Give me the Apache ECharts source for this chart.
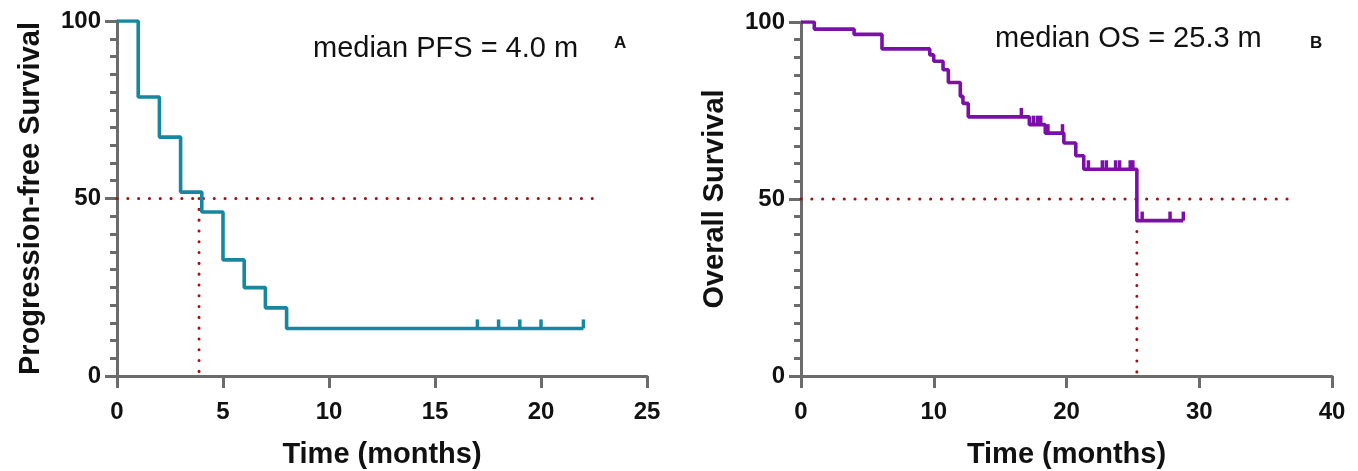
<!DOCTYPE html>
<html>
<head>
<meta charset="utf-8">
<script src="https://cdn.jsdelivr.net/npm/echarts@6/dist/echarts.min.js"></script>
<style>html,body{margin:0;padding:0;background:#fff}#c{width:1358px;height:471px}</style>
</head>
<body>
<div id="c"></div>
<script>
// Panel A: progression-free survival
const pfsTime = [0, 1, 2, 3, 4, 5, 6, 7, 8, 22];
const pfsSurv = [100, 78.6, 67.3, 51.8, 46.2, 32.7, 24.9, 19.2, 13.4, 13.4];
const pfsCensorTime = [17, 18, 19, 20, 22];
const pfsCensorSurv = [13.4, 13.4, 13.4, 13.4, 13.4];
const pfsMedianTime = 3.87;
const pfsRefEnd = 22.8;

// Panel B: overall survival
const osTime = [0, 1, 4, 6.1, 9.7, 10.0, 10.7, 11.1, 12.0, 12.2, 12.6, 17.2, 18.4, 19.8, 20.7, 21.3, 25.3, 28.8];
const osSurv = [100, 98.0, 96.5, 92.4, 90.7, 88.9, 86.5, 82.9, 79.0, 77.0, 73.2, 71.0, 68.6, 65.8, 62.2, 58.4, 43.9, 43.9];
const osCensorTime = [16.6, 17.5, 17.8, 18.06, 18.6, 19.7, 21.65, 22.7, 23.0, 23.7, 24.0, 24.8, 25.0, 25.7, 27.8, 28.8];
const osCensorSurv = [73.2, 71.0, 71.0, 71.0, 68.6, 68.6, 58.4, 58.4, 58.4, 58.4, 58.4, 58.4, 58.4, 43.9, 43.9, 43.9];
const osMedianTime = 25.3;
const osRefEnd = 37.2;

const medianLevel = 50;
const yTicks = [0, 50, 100];
const pfsXTicks = [0, 5, 10, 15, 20, 25];
const osXTicks = [0, 10, 20, 30, 40];

const axisColor = '#6b6b6b';
const pfsColor = '#16879f';
const osColor = '#7b10a8';
const refColor = '#a3100f';
const FONT = '"Liberation Sans", Arial, sans-serif';

const zip = (a, b) => a.map((v, i) => [v, b[i]]);

function yAxis(gridIndex, name) {
  return {
    type: 'value', gridIndex, min: yTicks[0], max: yTicks[yTicks.length - 1], interval: 50,
    name, nameLocation: 'middle', nameGap: 72, nameRotate: 90,
    nameTextStyle: { fontFamily: FONT, fontWeight: 'bold', fontSize: 29, color: '#111' },
    axisLine: { show: true, lineStyle: { color: axisColor, width: 3 } },
    axisTick: { show: true, length: 12, lineStyle: { color: axisColor, width: 3 } },
    minorTick: { show: true, splitNumber: 10, length: 7, lineStyle: { color: axisColor, width: 3 } },
    splitLine: { show: false },
    axisLabel: { fontFamily: FONT, fontWeight: 'bold', fontSize: 24, color: '#111', margin: 16 }
  };
}
function xAxis(gridIndex, ticks, name) {
  return {
    type: 'value', gridIndex, min: ticks[0], max: ticks[ticks.length - 1], interval: ticks[1] - ticks[0],
    name, nameLocation: 'middle', nameGap: 64,
    nameTextStyle: { fontFamily: FONT, fontWeight: 'bold', fontSize: 29, color: '#111' },
    axisLine: { show: true, onZero: false, lineStyle: { color: axisColor, width: 3 } },
    axisTick: { show: true, length: 12, lineStyle: { color: axisColor, width: 3 } },
    splitLine: { show: false },
    axisLabel: { fontFamily: FONT, fontWeight: 'bold', fontSize: 24, color: '#111', margin: 24 }
  };
}
function dotted(xi, data) {
  return {
    type: 'line', xAxisIndex: xi, yAxisIndex: xi, data, symbol: 'none', silent: true,
    lineStyle: { color: refColor, width: 3, type: [0.1, 10.7], cap: 'round' }, z: 1
  };
}
function km(xi, data, color) {
  return {
    type: 'line', xAxisIndex: xi, yAxisIndex: xi, data, step: 'end', symbol: 'none',
    lineStyle: { color, width: 3.6 }, z: 3
  };
}
function censor(xi, data, color) {
  return {
    type: 'scatter', xAxisIndex: xi, yAxisIndex: xi, data, symbol: 'rect',
    symbolSize: [3.5, 9], symbolOffset: [0, -4.5], itemStyle: { color, opacity: 1 }, z: 4
  };
}

const chart = echarts.init(document.getElementById('c'), null, { renderer: 'canvas' });
chart.setOption({
  animation: false,
  backgroundColor: '#fff',
  grid: [
    { left: 117, top: 21, width: 530, height: 355, containLabel: false, outerBoundsMode: 'none' },
    { left: 801, top: 22, width: 531, height: 354, containLabel: false, outerBoundsMode: 'none' }
  ],
  xAxis: [xAxis(0, pfsXTicks, 'Time (months)'), xAxis(1, osXTicks, 'Time (months)')],
  yAxis: [yAxis(0, 'Progression-free Survival'), yAxis(1, 'Overall Survival')],
  series: [
    dotted(0, [[0, medianLevel], [pfsRefEnd, medianLevel]]),
    dotted(0, [[pfsMedianTime, medianLevel], [pfsMedianTime, 0]]),
    km(0, zip(pfsTime, pfsSurv), pfsColor),
    censor(0, zip(pfsCensorTime, pfsCensorSurv), pfsColor),
    dotted(1, [[0, medianLevel], [osRefEnd, medianLevel]]),
    dotted(1, [[osMedianTime, medianLevel], [osMedianTime, 0]]),
    km(1, zip(osTime, osSurv), osColor),
    censor(1, zip(osCensorTime, osCensorSurv), osColor)
  ],
  graphic: [
    { type: 'text', left: 313, top: 34, style: { text: 'median PFS = 4.0 m', font: '29px ' + FONT, fill: '#111' } },
    { type: 'text', left: 614, top: 35, style: { text: 'A', font: 'bold 17px ' + FONT, fill: '#111' } },
    { type: 'text', left: 995, top: 24, style: { text: 'median OS = 25.3 m', font: '29px ' + FONT, fill: '#111' } },
    { type: 'text', left: 1310, top: 35, style: { text: 'B', font: 'bold 17px ' + FONT, fill: '#111' } }
  ]
});
</script>
</body>
</html>
